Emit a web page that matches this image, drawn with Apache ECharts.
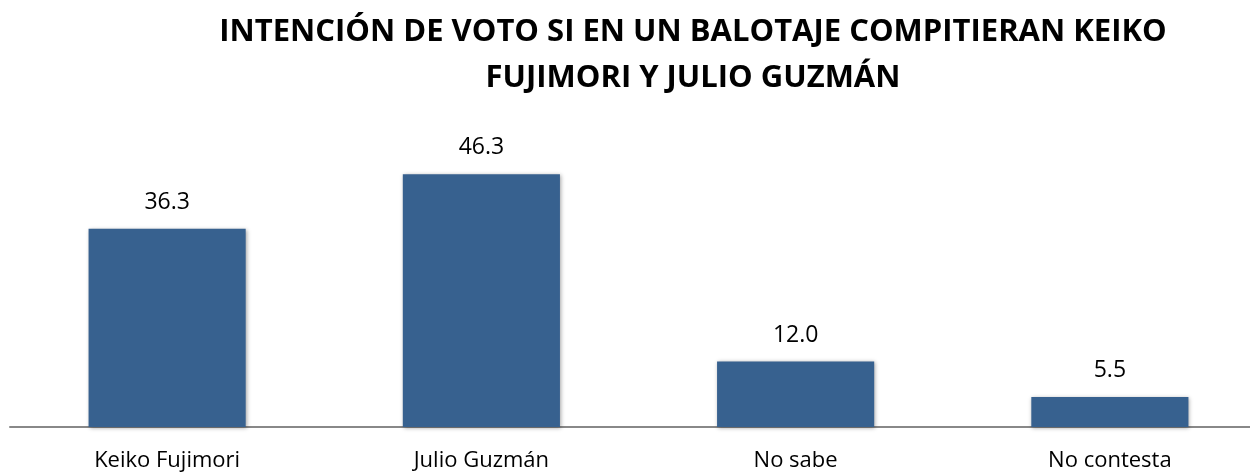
<!DOCTYPE html>
<html><head><meta charset="utf-8">
<script src="https://cdn.jsdelivr.net/npm/echarts@6/dist/echarts.min.js"></script>
<style>html,body{margin:0;padding:0;background:#fff}#c{width:1250px;height:473px}</style>
</head><body><div id="c"></div>
<script>
const categories = ["Keiko Fujimori", "Julio Guzmán", "No sabe", "No contesta"];
const values = [36.3, 46.3, 12.0, 5.5];
const titleText = "INTENCIÓN DE VOTO SI EN UN BALOTAJE COMPITIERAN KEIKO\nFUJIMORI Y JULIO GUZMÁN";

const chart = echarts.init(document.getElementById('c'));
chart.setOption({
  animation: false,
  title: {
    text: titleText,
    left: 688, top: 4, textAlign: 'center',
    textStyle: {fontFamily: 'Open Sans', fontWeight: 'bold', fontSize: 31, lineHeight: 46, color: '#000'}
  },
  grid: {left: 10, width: 1257, top: 154, bottom: 46, containLabel: false, outerBoundsMode: 'none'},
  xAxis: {
    type: 'category', data: categories,
    axisLine: {lineStyle: {color: '#888', width: 2}},
    axisTick: {show: false},
    axisLabel: {fontFamily: 'Open Sans', fontSize: 22, color: '#000', margin: 23, interval: 0}
  },
  yAxis: {type: 'value', min: 0, max: 50, show: false, splitLine: {show: false}},
  series: [{
    type: 'bar', data: values, barCategoryGap: '50%',
    itemStyle: {color: '#37618f', shadowColor: 'rgba(0,0,0,0.35)', shadowBlur: 4, shadowOffsetX: 1, shadowOffsetY: 1},
    label: {show: true, position: 'top', distance: 15, fontFamily: 'Open Sans', fontSize: 23, color: '#000',
      formatter: p => p.value.toFixed(1)}
  }]
});
</script></body></html>
